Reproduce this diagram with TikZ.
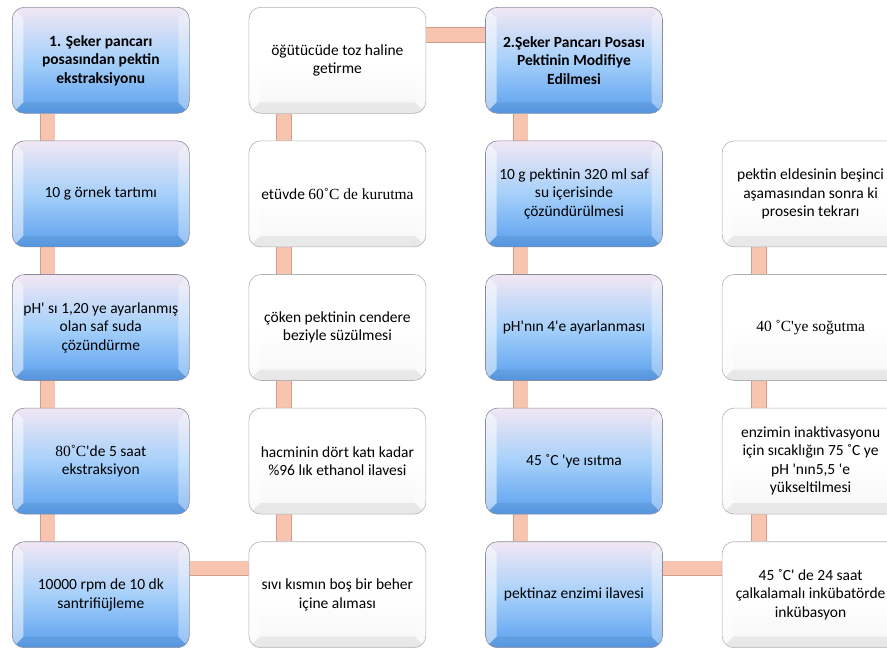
\documentclass[tikz,border=0pt]{standalone}
\usepackage{fontspec}
\setmainfont{Carlito}[Ligatures=TeXOff]
\newfontfamily\timesfont{Liberation Serif}
\usepackage{xcolor}
\definecolor{stepBlueTop}{HTML}{F1E7F4}
\definecolor{stepBlueMid}{HTML}{A6D0FA}
\definecolor{stepBlueBot}{HTML}{5A9FEE}
\definecolor{stepBorder}{HTML}{8A8C9E}
\definecolor{barFill}{HTML}{F7C4AF}
\definecolor{barEdge}{HTML}{D49C88}
\usetikzlibrary{positioning, backgrounds}

\begin{document}
\begin{tikzpicture}[
		x=1pt, y=1pt,
		node distance=27pt and 59pt,
		bevel/.style={
			path picture={
				\fill[white, opacity=.5, sharp corners] (path picture bounding box.south west) -- (path picture bounding box.north west) -- ([shift={(11pt,-11pt)}]path picture bounding box.north west) -- ([shift={(11pt,11pt)}]path picture bounding box.south west) -- cycle;
				\fill[white, opacity=.35, sharp corners] (path picture bounding box.south east) -- (path picture bounding box.north east) -- ([shift={(-11pt,-11pt)}]path picture bounding box.north east) -- ([shift={(-11pt,11pt)}]path picture bounding box.south east) -- cycle;
				\fill[black, opacity=.06, sharp corners] (path picture bounding box.south west) -- ([shift={(11pt,11pt)}]path picture bounding box.south west) -- ([shift={(-11pt,11pt)}]path picture bounding box.south east) -- (path picture bounding box.south east) -- cycle;
			}
		},
		box/.style={
			rounded corners=12pt,
			minimum width=177pt,
			minimum height=106pt,
			inner sep=2pt,
			align=center,
			line width=0.6pt,
			font=\fontsize{15.5}{18.5}\selectfont,
			bevel
		},
		bluebox/.style={box, draw=stepBorder, top color=stepBlueTop, bottom color=stepBlueBot, middle color=stepBlueMid},
		whitebox/.style={box, draw=gray!60, top color=white, bottom color=gray!7, middle color=white},
		bar/.style={draw=barEdge, line width=0.7pt, double=barFill, double distance=14pt}
		]
		
		\useasboundingbox (0,0) rectangle (887,-648);
		
		% first column
		\node[bluebox, anchor=north west] (r1c1) at (12,-7) {\textbf{1. Şeker pancarı}\\\textbf{posasından pektin}\\\textbf{ekstraksiyonu}};
		\node[bluebox, below=of r1c1] (r2c1) {10 g örnek tartımı};
		\node[bluebox, below=of r2c1] (r3c1) {pH' sı 1,20 ye ayarlanmış\\olan saf suda\\çözündürme};
		\node[bluebox, below=of r3c1] (r4c1) {{\timesfont 80˚C}'de 5 saat\\ekstraksiyon};
		\node[bluebox, below=of r4c1] (r5c1) {10000 rpm de 10 dk\\santrifiüjleme};
		
		% second column
		\node[whitebox, right=of r1c1] (r1c2) {öğütücüde toz haline\\getirme};
		\node[whitebox, right=of r2c1] (r2c2) {etüvde {\timesfont 60˚C de kurutma}};
		\node[whitebox, right=of r3c1] (r3c2) {çöken pektinin cendere\\beziyle süzülmesi};
		\node[whitebox, right=of r4c1] (r4c2) {hacminin dört katı kadar\\\%96 lık ethanol ilavesi};
		\node[whitebox, right=of r5c1] (r5c2) {sıvı kısmın boş bir beher\\içine alıması};
		
		% third column
		\node[bluebox, right=of r1c2] (r1c3) {\textbf{2.Şeker Pancarı Posası}\\\textbf{Pektinin Modifiye}\\\textbf{Edilmesi}};
		\node[bluebox, right=of r2c2] (r2c3) {10 g pektinin 320 ml saf\\su içerisinde\\çözündürülmesi};
		\node[bluebox, right=of r3c2] (r3c3) {pH'nın 4'e ayarlanması};
		\node[bluebox, right=of r4c2] (r4c3) {45 ˚C 'ye ısıtma};
		\node[bluebox, right=of r5c2] (r5c3) {pektinaz enzimi ilavesi};
		
		% fourth column
		\node[whitebox, right=of r2c3] (r2c4) {pektin eldesinin beşinci\\aşamasından sonra ki\\prosesin tekrarı};
		\node[whitebox, right=of r3c3] (r3c4) {\timesfont 40 ˚C'ye soğutma};
		\node[whitebox, right=of r4c3] (r4c4) {enzimin inaktivasyonu\\için sıcaklığın 75 ˚C ye\\pH 'nın5,5 'e\\yükseltilmesi};
		\node[whitebox, right=of r5c3] (r5c4) {45 ˚C' de 24 saat\\çalkalamalı inkübatörde\\inkübasyon};
		
		\begin{scope}[on background layer]
			\draw[bar] ([xshift=35.5pt]r1c1.south west) -- ([xshift=35.5pt]r2c1.north west);
			\draw[bar] ([xshift=35.5pt]r2c1.south west) -- ([xshift=35.5pt]r3c1.north west);
			\draw[bar] ([xshift=35.5pt]r3c1.south west) -- ([xshift=35.5pt]r4c1.north west);
			\draw[bar] ([xshift=35.5pt]r4c1.south west) -- ([xshift=35.5pt]r5c1.north west);
			\draw[bar] ([yshift=-27pt]r5c1.north east) -- ([yshift=-27pt]r5c2.north west);
			\draw[bar] ([xshift=35.5pt]r5c2.north west) -- ([xshift=35.5pt]r4c2.south west);
			\draw[bar] ([xshift=35.5pt]r4c2.north west) -- ([xshift=35.5pt]r3c2.south west);
			\draw[bar] ([xshift=35.5pt]r3c2.north west) -- ([xshift=35.5pt]r2c2.south west);
			\draw[bar] ([xshift=35.5pt]r2c2.north west) -- ([xshift=35.5pt]r1c2.south west);
			\draw[bar] ([yshift=-28pt]r1c2.north east) -- ([yshift=-28pt]r1c3.north west);
			\draw[bar] ([xshift=35.5pt]r1c3.south west) -- ([xshift=35.5pt]r2c3.north west);
			\draw[bar] ([xshift=35.5pt]r2c3.south west) -- ([xshift=35.5pt]r3c3.north west);
			\draw[bar] ([xshift=35.5pt]r3c3.south west) -- ([xshift=35.5pt]r4c3.north west);
			\draw[bar] ([xshift=35.5pt]r4c3.south west) -- ([xshift=35.5pt]r5c3.north west);
			\draw[bar] ([yshift=-27pt]r5c3.north east) -- ([yshift=-27pt]r5c4.north west);
			\draw[bar] ([xshift=37pt]r5c4.north west) -- ([xshift=37pt]r4c4.south west);
			\draw[bar] ([xshift=37pt]r4c4.north west) -- ([xshift=37pt]r3c4.south west);
			\draw[bar] ([xshift=37pt]r3c4.north west) -- ([xshift=37pt]r2c4.south west);
		\end{scope}
		
	\end{tikzpicture}
\end{document}
